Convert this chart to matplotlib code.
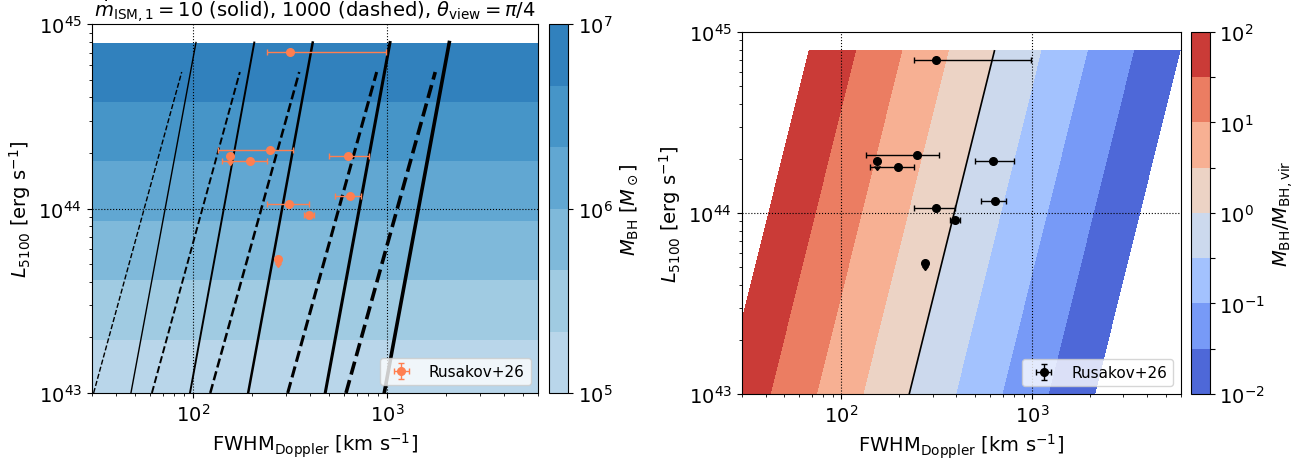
import numpy as np
import matplotlib
matplotlib.use("Agg")
import matplotlib.pyplot as plt
from matplotlib.colors import ListedColormap

# Rusakov+26 points
fwhm = np.array([314, 248, 154, 197, 624, 640, 311, 395, 274])
fwhm_err_lo = np.array([74, 114, 0, 56, 124, 102, 71, 23, 0])
fwhm_err_hi = np.array([667, 77, 0, 42, 181, 89, 84, 25, 0])
l5100 = np.array([7.03e44, 2.08e44, 1.93e44, 1.80e44, 1.93e44, 1.17e44, 1.06e44, 9.2e43, 5.3e43])
l5100_err = np.array([1.2e43, 4e42, 1.2e43, 3e42, 4e42, 2e42, 2e42, 2e42, 2.3e42])
l5100_uplim = np.array([False, False, True, False, False, False, False, False, True])

# model tracks: FWHM at L=1e43 and at the top end of each track
solid_fwhm_lo = [47.8, 96.3, 192, 479, 965]
solid_fwhm_hi = [103.4, 206.5, 413, 1033, 2087]
solid_l_top = 10**44.9
dashed_fwhm_lo = [30.7, 61.3, 122.5, 307, 613]
dashed_fwhm_hi = [87.3, 174, 352, 882, 1767]
dashed_l_top = 10**44.74
track_lw = [1.0, 1.4, 1.8, 2.2, 2.6]

# contour levels (log10)
mbh_levels = np.linspace(5, 7, 7)
ratio_levels = np.arange(-2, 2.01, 0.5)

# model grid: M_BH(L) and M_BH/M_vir(FWHM, L)
lgL = np.linspace(42.8, 44.9, 400)
lgF = np.linspace(1.3, 4.0, 400)
LGF, LGL = np.meshgrid(lgF, lgL)
lg_mbh = 7 - (44.9 - LGL) * 1.035
lg_ratio = -2.058 * (LGF - 2.355 - 0.2356 * (LGL - 43))

plt.rcParams['font.size'] = 14

fig = plt.figure(figsize=(13.04, 4.6), dpi=100)
ax1 = fig.add_axes([0.0703, 0.1435, 0.3425, 0.802])
cax1 = fig.add_axes([0.421, 0.1435, 0.0146, 0.802])
ax2 = fig.add_axes([0.5688, 0.1413, 0.3367, 0.787])
cax2 = fig.add_axes([0.9133, 0.1413, 0.0143, 0.787])

blues = ListedColormap(plt.cm.Blues(np.linspace(0.25, 0.73, 256)))

# left panel
cs1 = ax1.contourf(10**LGF, 10**LGL, lg_mbh, levels=mbh_levels, cmap=blues)
for lo, hi, lw in zip(solid_fwhm_lo, solid_fwhm_hi, track_lw):
    ax1.plot([lo, hi], [1e43, solid_l_top], color='k', ls='-', lw=lw)
for lo, hi, lw in zip(dashed_fwhm_lo, dashed_fwhm_hi, track_lw):
    ax1.plot([lo, hi], [1e43, dashed_l_top], color='k', ls='--', lw=lw)

# right panel
cs2 = ax2.contourf(10**LGF, 10**LGL, lg_ratio, levels=ratio_levels, cmap='coolwarm')
ax2.contour(10**LGF, 10**LGL, lg_ratio, levels=[0], colors='k', linewidths=1.2)

for ax, col in [(ax1, 'coral'), (ax2, 'k')]:
    ax.set_xscale('log')
    ax.set_yscale('log')
    ax.axvline(100, color='k', ls=':', lw=0.8)
    ax.axvline(1000, color='k', ls=':', lw=0.8)
    ax.axhline(1e44, color='k', ls=':', lw=0.8)
    ax.errorbar(fwhm, l5100, xerr=[fwhm_err_lo, fwhm_err_hi], yerr=l5100_err,
                uplims=l5100_uplim, fmt='o', color=col, ms=5.5, capsize=2,
                elinewidth=1, label='Rusakov+26', zorder=5)
    ax.set_xlim(30, 6000)
    ax.set_ylim(1e43, 1e45)
    ax.set_xlabel(r'FWHM$_{\rm Doppler}$ [km s$^{-1}$]')
    ax.set_ylabel(r'$L_{5100}$ [erg s$^{-1}$]')
    ax.legend(loc='lower right', fontsize=11)

ax1.set_title(r'$\dot{m}_{\rm ISM,1}=10$ (solid), 1000 (dashed), $\theta_{\rm view}=\pi/4$',
              fontsize=14, pad=2)

cb1 = fig.colorbar(cs1, cax=cax1, ticks=[5, 6, 7])
cb1.ax.set_yticklabels([r'$10^{5}$', r'$10^{6}$', r'$10^{7}$'])
cb1.set_label(r'$M_{\rm BH}$ [$M_\odot$]')

cb2 = fig.colorbar(cs2, cax=cax2, ticks=ratio_levels)
cb2.ax.set_yticklabels([r'$10^{%d}$' % v if v == int(v) else '' for v in ratio_levels])
cb2.set_label(r'$M_{\rm BH}/M_{\rm BH,vir}$')

fig.savefig('out.png', dpi=100)
